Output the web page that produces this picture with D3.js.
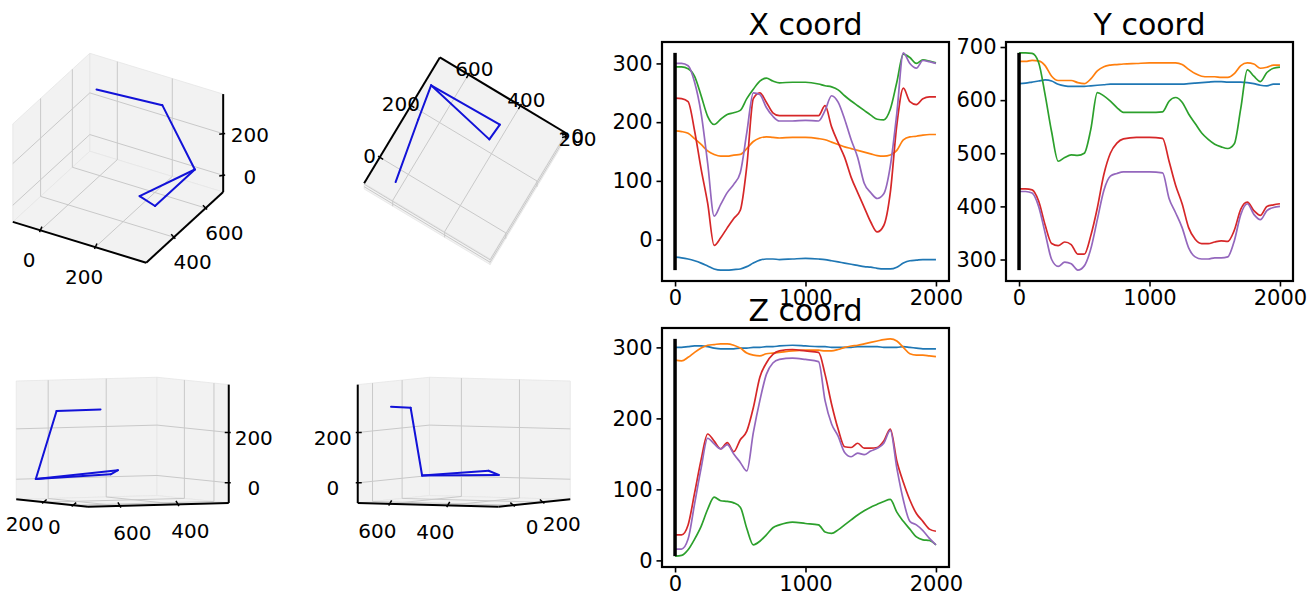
<!DOCTYPE html>
<html>
<head>
<meta charset="utf-8">
<script src="https://cdn.jsdelivr.net/npm/d3@7"></script>
<style>
  body { margin: 0; background: #fff; }
  text { font-family: "DejaVu Sans", sans-serif; fill: #000; }
</style>
</head>
<body>
<script>
"use strict";

var frames = [0,50,100,150,200,250,300,350,400,450,500,550,600,650,700,750,800,
              900,1000,1100,
              1150,1200,1250,1300,1350,1400,1450,1500,1550,1600,1650,1700,1750,1800,1850,1900,1950,2000];

// X coord, one array per joint
var xBlue   = [-30,-31,-33,-36,-40,-45,-50,-52,-52,-51,-50,-46,-40,-35,-33,-33,-34, -33,-32,-33,
               -34,-36,-38,-40,-42,-44,-46,-47,-49,-50,-50,-47,-40,-36,-35,-34,-34,-34];
var xOrange = [185,184,181,172,162,151,145,142,142,144,145,155,167,173,175,174,173, 174,174,172,
               170,166,162,158,155,152,149,146,143,142,144,152,170,175,176,178,179,179];
var xGreen  = [294,294,291,278,245,210,196,205,213,216,220,240,256,270,275,270,267, 268,268,265,
               262,260,255,245,236,228,220,212,205,204,222,268,316,310,300,306,304,301];
var xRed    = [241,240,235,185,120,62,-10,3,20,36,50,125,240,250,234,216,211, 211,211,211,
               228,192,165,140,106,80,55,30,13,24,80,195,258,235,230,240,243,243];
var xPurple = [300,300,296,268,215,130,40,60,80,94,114,182,250,247,225,210,202, 202,203,202,
               220,245,234,205,170,140,96,80,70,78,125,215,318,300,292,305,303,300];

// Y coord
var yBlue   = [631,632,634,636,638,636,630,627,626,626,626,627,628,629,630,630,630, 630,630,630,
               630,630,630,631,632,633,634,635,635,634,634,634,633,631,628,627,630,630];
var yOrange = [673,673,675,674,665,645,637,637,637,633,631,640,655,663,666,667,668, 669,670,670,
               670,670,667,658,650,645,644,644,643,643,650,665,670,668,660,662,666,666];
var yGreen  = [689,689,688,671,610,540,485,492,497,496,500,545,614,608,598,586,577, 577,577,578,
               598,605,596,574,556,538,526,517,512,509,518,585,657,645,635,652,660,662];
var yRed    = [433,433,431,410,365,330,326,333,328,310,310,345,397,460,500,519,527, 530,530,528,
               485,440,405,360,338,330,330,333,335,334,355,395,408,392,383,400,403,405];
var yPurple = [428,428,425,400,350,300,287,295,292,280,288,320,375,430,457,462,465, 465,465,463,
               415,388,360,322,305,301,301,303,303,305,335,385,405,385,375,392,398,400];

// Z coord
var zBlue   = [300,300,301,302,302,301,299,298,298,298,299,299,300,300,301,301,302, 303,302,301,
               301,300,300,300,300,301,301,301,301,300,300,300,301,300,299,298,298,298];
var zOrange = [282,281,286,293,299,303,304,305,305,303,299,292,289,288,291,292,293, 295,296,296,
               295,295,297,300,302,303,305,307,309,311,312,309,300,291,289,289,288,287];
var zGreen  = [6,7,15,30,48,72,89,84,83,81,75,45,22,27,36,46,50, 54,52,50,
               40,38,43,50,57,64,70,75,79,83,86,68,55,44,33,29,28,22];
var zRed    = [36,36,50,95,142,178,168,157,166,153,170,182,215,258,278,290,295, 297,295,293,
               262,220,185,160,159,165,158,158,159,168,185,140,110,85,66,55,44,41];
var zPurple = [16,16,30,80,130,172,164,157,163,150,138,126,180,225,262,278,283, 285,283,280,
               225,192,175,152,146,151,149,154,158,165,183,130,85,55,50,42,31,22];

var xSeries = [xBlue, xOrange, xGreen, xRed, xPurple];
var ySeries = [yBlue, yOrange, yGreen, yRed, yPurple];
var zSeries = [zBlue, zOrange, zGreen, zRed, zPurple];
var colors = ["#1f77b4", "#ff7f0e", "#2ca02c", "#d62728", "#9467bd"];

var currentFrame = 0;
var frameTicks = [0, 1000, 2000];
var xCoordTicks = [0, 100, 200, 300];
var yCoordTicks = [300, 400, 500, 600, 700];
var zCoordTicks = [0, 100, 200, 300];

// 3d panels
var lim3dX = [-100, 385], lim3dY = [225, 710], lim3dZ = [-80, 390];
var ticks3dX = [0, 200], ticks3dY = [400, 600], ticks3dZ = [0, 200];
var bones = [[0,1],[1,2],[2,3],[3,4],[4,2]];
var views = [
  {azim: -60,  elev: 32, s: 77,   cx: 118,   cy: 158, pad: 27},
  {azim: -149, elev: 93, s: 73.5, cx: 465,   cy: 161, pad: 12},
  {azim: 153,  elev: 3,  s: 79,   cx: 122.5, cy: 442, pad: 25},
  {azim: -153, elev: 3,  s: 79,   cx: 464,   cy: 442, pad: 25}
];

var svg = d3.select("body").append("svg")
    .attr("width", 1309).attr("height", 596)
    .style("display", "block");
svg.append("rect").attr("width", 1309).attr("height", 596).attr("fill", "#fff");

var fi = frames.indexOf(currentFrame);
var joints = xSeries.map(function(s, j){ return [xSeries[j][fi], ySeries[j][fi], zSeries[j][fi]]; });

function draw3D(v){
  var a = v.azim * Math.PI / 180, e = v.elev * Math.PI / 180;
  var nx = d3.scaleLinear().domain(lim3dX).range([-1, 1]),
      ny = d3.scaleLinear().domain(lim3dY).range([-1, 1]),
      nz = d3.scaleLinear().domain(lim3dZ).range([-0.75, 0.75]);
  var R = [-Math.sin(a), Math.cos(a), 0],
      U = [-Math.sin(e)*Math.cos(a), -Math.sin(e)*Math.sin(a), Math.cos(e)],
      eye = [Math.cos(e)*Math.cos(a), Math.cos(e)*Math.sin(a), Math.sin(e)];
  function proj(p){
    var n = [nx(p[0]), ny(p[1]), nz(p[2])];
    return [v.cx + v.s*(R[0]*n[0] + R[1]*n[1] + R[2]*n[2]),
            v.cy - v.s*(U[0]*n[0] + U[1]*n[1] + U[2]*n[2])];
  }
  var x0 = lim3dX[0], x1 = lim3dX[1], y0 = lim3dY[0], y1 = lim3dY[1], z0 = lim3dZ[0], z1 = lim3dZ[1];
  var xw = eye[0] > 0 ? x0 : x1, xn = eye[0] > 0 ? x1 : x0;
  var yw = eye[1] > 0 ? y0 : y1, yn = eye[1] > 0 ? y1 : y0;
  var zw = eye[2] > 0 ? z0 : z1;

  var g = svg.append("g");
  var line = d3.line();

  var panes = [
    [[xw,y0,z0],[xw,y1,z0],[xw,y1,z1],[xw,y0,z1]],
    [[x0,yw,z0],[x1,yw,z0],[x1,yw,z1],[x0,yw,z1]],
    [[x0,y0,zw],[x1,y0,zw],[x1,y1,zw],[x0,y1,zw]]
  ];
  g.selectAll("path.pane").data(panes).enter().append("path")
      .attr("class", "pane")
      .attr("d", function(d){ return line(d.map(proj)) + "Z"; })
      .attr("fill", "#f2f2f2")
      .attr("stroke", "#e6e6e6")
      .attr("stroke-width", 0.8);

  var grid = [];
  ticks3dX.forEach(function(t){ grid.push([[t,yw,z0],[t,yw,z1]]); grid.push([[t,y0,zw],[t,y1,zw]]); });
  ticks3dY.forEach(function(t){ grid.push([[xw,t,z0],[xw,t,z1]]); grid.push([[x0,t,zw],[x1,t,zw]]); });
  ticks3dZ.forEach(function(t){ grid.push([[xw,y0,t],[xw,y1,t]]); grid.push([[x0,yw,t],[x1,yw,t]]); });
  g.selectAll("path.grid").data(grid).enter().append("path")
      .attr("class", "grid")
      .attr("d", function(d){ return line(d.map(proj)); })
      .attr("fill", "none")
      .attr("stroke", "#c9c9c9")
      .attr("stroke-width", 1);

  var axes = [
    {ends: [[x0,yn,zw],[x1,yn,zw]], vals: ticks3dX, pt: function(t){ return [t,yn,zw]; }},
    {ends: [[xn,y0,zw],[xn,y1,zw]], vals: ticks3dY, pt: function(t){ return [xn,t,zw]; }},
    {ends: [[xn,yw,z0],[xn,yw,z1]], vals: ticks3dZ, pt: function(t){ return [xn,yw,t]; }}
  ];
  axes.forEach(function(ax){
    var p0 = proj(ax.ends[0]), p1 = proj(ax.ends[1]);
    var mx = (p0[0] + p1[0]) / 2 - v.cx, my = (p0[1] + p1[1]) / 2 - v.cy;
    var len = Math.hypot(mx, my), dx = mx / len, dy = my / len;
    g.append("path")
        .attr("d", line([p0, p1]))
        .attr("stroke", "#000").attr("stroke-width", 2).attr("fill", "none");
    ax.vals.forEach(function(t){
      var p = proj(ax.pt(t));
      g.append("path")
          .attr("d", line([[p[0] - dx*4, p[1] - dy*4], [p[0] + dx*2, p[1] + dy*2]]))
          .attr("stroke", "#000").attr("stroke-width", 1.5);
      g.append("text")
          .attr("x", p[0] + dx*v.pad)
          .attr("y", p[1] + dy*v.pad + 5)
          .attr("text-anchor", "middle")
          .attr("dominant-baseline", "central")
          .style("font-size", "20px")
          .text(t);
    });
  });

  g.selectAll("path.bone").data(bones).enter().append("path")
      .attr("class", "bone")
      .attr("d", function(b){ return line([proj(joints[b[0]]), proj(joints[b[1]])]); })
      .attr("stroke", "#1212d8")
      .attr("stroke-width", 2)
      .attr("stroke-linecap", "round")
      .attr("fill", "none");
}

views.forEach(draw3D);

function linePanel(box, series, yTicks, title){
  var g = svg.append("g");
  var span = frames[frames.length-1] - frames[0];
  var x = d3.scaleLinear()
      .domain([frames[0] - 0.05*span, frames[frames.length-1] + 0.05*span])
      .range([box.l, box.r]);
  var ext = d3.extent(d3.merge(series));
  var m = (ext[1] - ext[0]) * 0.05;
  var y = d3.scaleLinear().domain([ext[0] - m, ext[1] + m]).range([box.b, box.t]);

  var line = d3.line()
      .x(function(d, i){ return x(frames[i]); })
      .y(function(d){ return y(d); })
      .curve(d3.curveMonotoneX);

  g.selectAll("path.series").data(series).enter().append("path")
      .attr("class", "series")
      .attr("d", line)
      .attr("fill", "none")
      .attr("stroke", function(d, i){ return colors[i]; })
      .attr("stroke-width", 1.7);

  // current frame marker
  g.append("line")
      .attr("x1", x(currentFrame)).attr("x2", x(currentFrame))
      .attr("y1", y(ext[0])).attr("y2", y(ext[1]))
      .attr("stroke", "#000").attr("stroke-width", 3.5);

  g.append("rect")
      .attr("x", box.l).attr("y", box.t)
      .attr("width", box.r - box.l).attr("height", box.b - box.t)
      .attr("fill", "none").attr("stroke", "#000").attr("stroke-width", 2.2);

  var ax = g.append("g").attr("transform", "translate(" + box.l + ",0)")
      .call(d3.axisLeft(y).tickValues(yTicks).tickFormat(d3.format("d")).tickSize(5.5).tickPadding(4));
  var bx = g.append("g").attr("transform", "translate(0," + box.b + ")")
      .call(d3.axisBottom(x).tickValues(frameTicks).tickFormat(d3.format("d")).tickSize(5.5).tickPadding(4));
  [ax, bx].forEach(function(a){
    a.select(".domain").remove();
    a.selectAll("line").attr("stroke-width", 1.6);
    a.selectAll("text").style("font-size", "21px").style("font-family", "DejaVu Sans, sans-serif");
  });

  g.append("text")
      .attr("x", (box.l + box.r) / 2)
      .attr("y", box.t - 7)
      .attr("text-anchor", "middle")
      .style("font-size", "30px")
      .text(title);
}

linePanel({l: 662, r: 949, t: 42, b: 281}, xSeries, xCoordTicks, "X coord");
linePanel({l: 1006, r: 1293, t: 42, b: 281}, ySeries, yCoordTicks, "Y coord");
linePanel({l: 662, r: 949, t: 328, b: 567}, zSeries, zCoordTicks, "Z coord");
</script>
</body>
</html>
